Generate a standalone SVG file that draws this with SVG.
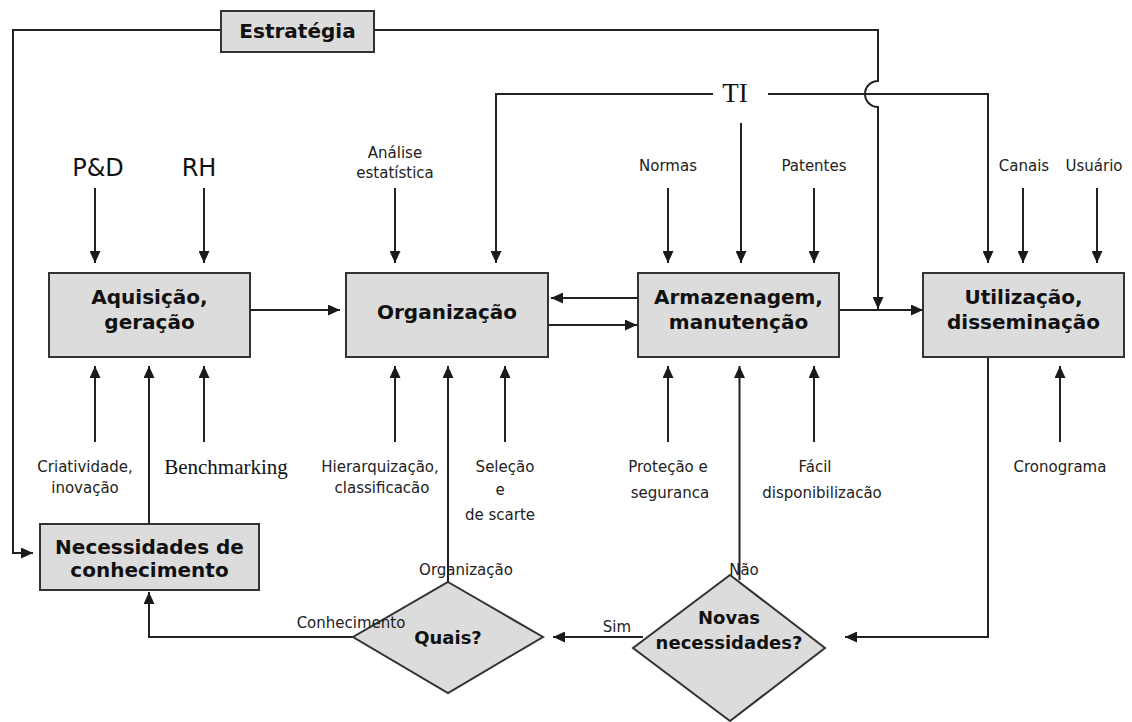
<svg xmlns="http://www.w3.org/2000/svg" width="1132" height="722" viewBox="0 0 1132 722">
<defs>
<marker id="ah" markerWidth="12" markerHeight="11" refX="12" refY="5.5" orient="auto" markerUnits="userSpaceOnUse">
<path d="M0,0 L12,5.5 L0,11 z" fill="#1a1a1a"/>
</marker>
<style>
.box{fill:#dcdcdc;stroke:#333;stroke-width:2}
.ln{fill:none;stroke:#222;stroke-width:2}
.ar{fill:none;stroke:#222;stroke-width:2;marker-end:url(#ah)}
.bt{font-family:"DejaVu Sans",Verdana,sans-serif;font-weight:bold;font-size:20px;fill:#111;text-anchor:middle}
.dt{font-family:"DejaVu Sans",Verdana,sans-serif;font-weight:bold;font-size:18px;fill:#111;text-anchor:middle}
.sm{font-family:"DejaVu Sans",Verdana,sans-serif;font-size:15px;fill:#222;text-anchor:middle}
.big{font-family:"DejaVu Sans",Verdana,sans-serif;font-size:24px;fill:#111;text-anchor:middle}
.ser{font-family:"Liberation Serif","Times New Roman",serif;fill:#111;text-anchor:middle}
</style>
</defs>
<rect width="1132" height="722" fill="#fff"/>

<g id="connectors">
<!-- Estrategia lines -->
<path class="ar" d="M221,30 H13 V553 H33"/>
<path class="ar" d="M374,30 H878 V81 A13,13 0 0 0 878,107 V309"/>
<!-- TI lines -->
<path class="ar" d="M713,94 H496 V263"/>
<path class="ar" d="M768,94 H988 V263"/>
<path class="ar" d="M741,123 V263"/>
<!-- top inputs -->
<path class="ar" d="M95,188 V263"/>
<path class="ar" d="M204,188 V263"/>
<path class="ar" d="M395,188 V263"/>
<path class="ar" d="M668,188 V263"/>
<path class="ar" d="M814,188 V263"/>
<path class="ar" d="M1023,188 V263"/>
<path class="ar" d="M1097,188 V263"/>
<!-- bottom inputs -->
<path class="ar" d="M95,442 V366"/>
<path class="ar" d="M204,442 V366"/>
<path class="ar" d="M395,442 V366"/>
<path class="ar" d="M505,442 V366"/>
<path class="ar" d="M668,442 V366"/>
<path class="ar" d="M814,442 V366"/>
<path class="ar" d="M1060,442 V366"/>
<!-- process flow -->
<path class="ar" d="M250,310 H340"/>
<path class="ar" d="M638,298 H551"/>
<path class="ar" d="M548,325 H637"/>
<path class="ar" d="M839,310 H923"/>
<path class="ar" d="M149,524 V366"/>
<path class="ar" d="M448,582 V366"/>
<path class="ar" d="M739.5,580 V366"/>
<path class="ar" d="M988,357 V637 H845"/>
<path class="ar" d="M643,637 H553"/>
<path class="ar" d="M353,637 H149 V592"/>
</g>

<g id="estrategia">
<rect class="box" x="221" y="11" width="153" height="41"/>
<text class="bt" x="297.5" y="38">Estratégia</text>
</g>
<g id="ti"><text class="ser" x="735" y="102" font-size="27">TI</text></g>

<g id="aquisicao">
<rect class="box" x="49" y="273" width="201" height="84"/>
<text class="bt" x="149.5" y="304">Aquisição,</text>
<text class="bt" x="149.5" y="329">geração</text>
</g>
<g id="organizacao">
<rect class="box" x="346" y="273" width="202" height="84"/>
<text class="bt" x="447" y="319">Organização</text>
</g>
<g id="armazenagem">
<rect class="box" x="638" y="273" width="201" height="84"/>
<text class="bt" x="738.5" y="304">Armazenagem,</text>
<text class="bt" x="738.5" y="329">manutenção</text>
</g>
<g id="utilizacao">
<rect class="box" x="923" y="273" width="201" height="84"/>
<text class="bt" x="1023.5" y="304">Utilização,</text>
<text class="bt" x="1023.5" y="329">disseminação</text>
</g>
<g id="necessidades">
<rect class="box" x="40" y="524" width="219" height="66"/>
<text class="bt" x="149.5" y="554">Necessidades de</text>
<text class="bt" x="149.5" y="577">conhecimento</text>
</g>
<g id="quais">
<polygon class="box" points="448,582 543,637 448,693 353,637"/>
<text class="dt" x="448" y="644">Quais?</text>
</g>
<g id="novas">
<polygon class="box" points="730,575 825,648 730,721 633,648"/>
<text class="dt" x="729" y="624">Novas</text>
<text class="dt" x="729" y="649">necessidades?</text>
</g>

<g id="labels">
<text class="big" x="98" y="176">P&amp;D</text>
<text class="big" x="199" y="176">RH</text>
<text class="sm" x="395" y="158">Análise</text>
<text class="sm" x="395" y="178">estatística</text>
<text class="sm" x="668" y="171">Normas</text>
<text class="sm" x="814" y="171">Patentes</text>
<text class="sm" x="1024" y="171">Canais</text>
<text class="sm" x="1094" y="171">Usuário</text>
<text class="sm" x="85" y="472">Criatividade,</text>
<text class="sm" x="85" y="493">inovação</text>
<text class="ser" x="226" y="474" font-size="21">Benchmarking</text>
<text class="sm" x="380" y="472">Hierarquização,</text>
<text class="sm" x="382" y="493">classificacão</text>
<text class="sm" x="505" y="472">Seleção</text>
<text class="sm" x="500" y="495">e</text>
<text class="sm" x="500" y="520">de scarte</text>
<text class="sm" x="668" y="472">Proteção e</text>
<text class="sm" x="670" y="498">seguranca</text>
<text class="sm" x="815" y="472">Fácil</text>
<text class="sm" x="822" y="498">disponibilizacão</text>
<text class="sm" x="1060" y="472">Cronograma</text>
<text class="sm" x="466" y="575" text-anchor="start">Organização</text>
<text class="sm" x="351" y="628" text-anchor="end">Conhecimento</text>
<text class="sm" x="744" y="575" text-anchor="start">Não</text>
<text class="sm" x="617" y="632" text-anchor="start">Sim</text>
</g>
</svg>
